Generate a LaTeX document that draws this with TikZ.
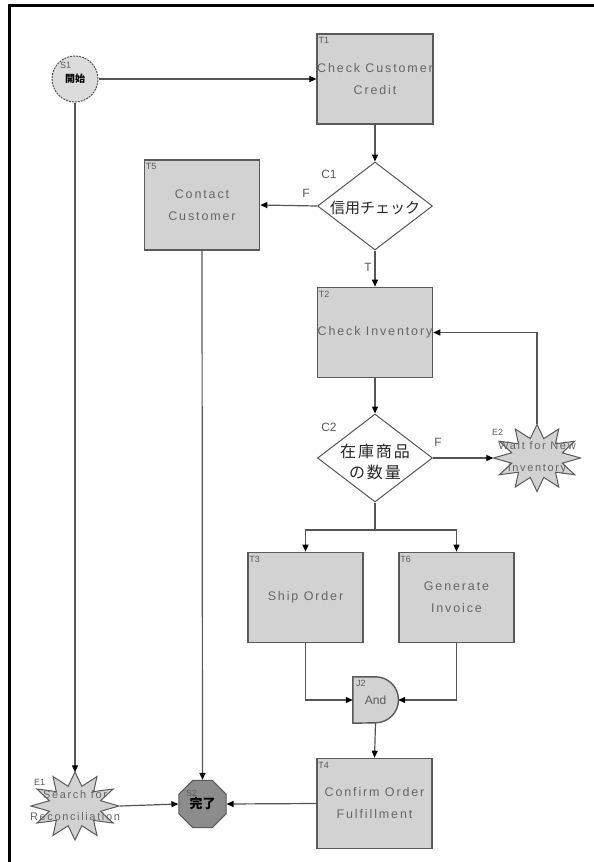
\documentclass[tikz,border=0pt]{standalone}
\usepackage{fontspec}
\setmainfont{Liberation Sans}
\newfontfamily\boxfont[LetterSpace=15]{Liberation Sans}
\newfontfamily\jpfont{Noto Sans CJK JP}
\newfontfamily\jpwide[LetterSpace=12]{Noto Sans CJK JP}
\usetikzlibrary{shapes.geometric,arrows.meta,calc}
\pgfdeclarelayer{bg}
\pgfsetlayers{bg,main}
\definecolor{boxfill}{HTML}{D2D2D2}
\definecolor{boxline}{HTML}{5A5A5A}
\definecolor{txtgray}{HTML}{666666}
\definecolor{linegray}{HTML}{555555}
\definecolor{startfill}{HTML}{DCDCDC}
\definecolor{endfill}{HTML}{8C8C8C}
\begin{document}
\begin{tikzpicture}[x=1pt,y=-1pt,
  task/.style={draw=boxline, fill=boxfill, line width=1.6pt,
    minimum width=115pt, minimum height=90pt, inner sep=0pt,
    text=txtgray, align=center, font=\boxfont\fontsize{12.5}{22}\selectfont},
  tag/.style={anchor=north west, inner sep=0pt, text=boxline,
    font=\fontsize{9}{10}\selectfont},
  decision/.style={diamond, draw=linegray, fill=white, line width=1pt,
    inner sep=0pt, minimum width=115pt, minimum height=88pt},
  dtext/.style={inner sep=0pt, align=center, text=black!85},
  eventbox/.style={rectangle, inner sep=0pt, minimum width=87pt,
    minimum height=67pt, align=center, text=txtgray,
    font=\boxfont\fontsize{11}{22}\selectfont},
  starline/.style={draw=boxline, fill=boxfill, line width=1pt},
  startnode/.style={circle, draw=linegray, dash pattern=on 2pt off 1pt,
    fill=startfill, line width=1pt, minimum size=46pt, inner sep=0pt,
    font=\jpfont\bfseries\fontsize{10}{12}\selectfont},
  endnode/.style={regular polygon, regular polygon sides=8, draw=boxline,
    fill=endfill, line width=1pt, minimum size=51pt, inner sep=0pt,
    font=\jpfont\bfseries\fontsize{13}{14}\selectfont},
  gatebox/.style={rectangle, inner sep=0pt, minimum width=45pt,
    minimum height=46pt, text=boxline, font=\fontsize{12}{14}\selectfont},
  flow/.style={draw=linegray, line width=1.2pt,
    -{Triangle[length=7pt,width=6pt,color=black]}},
  plain/.style={draw=linegray, line width=1.2pt},
  branch/.style={font=\fontsize{12}{14}\selectfont, text=boxline, inner sep=0pt}]

\useasboundingbox (0,0) rectangle (594,862);
\draw[line width=3pt] (9.5,862) -- (9.5,5) -- (594,5);

% start and end
\node[startnode] (S1) at (75,79) {開始};
\node[tag] (S1tag) at (60,62) {S1};
\node[endnode] (S2) at (202.5,804) {完了};
\node[tag] (S2tag) at (186,790) {S2};

% tasks
\node[task] (T1) at (375,79) {Check Customer\\Credit};
\node[task] (T5) at (202,205) {Contact\\Customer};
\node[task] (T2) at (375,332.5) {Check Inventory};
\node[task] (T3) at (305.5,597.5) {Ship Order};
\node[task] (T6) at (456.5,597.5) {Generate\\Invoice};
\node[task] (T4) at (374.5,803.5) {Confirm Order\\Fulfillment};
\foreach \t in {T1,T5,T2,T3,T6,T4}
  \node[tag] (\t tag) at ([shift={(2,4)}]\t.north west) {\t};

% decisions
\node[decision] (C1) at (375,206) {};
\node[dtext, font=\jpfont\fontsize{15}{18}\selectfont] (C1text) at (375,208) {信用チェック};
\node[branch] (C1tag) at (329,174) {C1};
\node[decision] (C2) at (375,458) {};
\node[dtext, font=\jpwide\fontsize{16}{21}\selectfont] (C2text) at (375,462) {在庫商品\\の数量};
\node[branch] (C2tag) at (329,427) {C2};

% events
\node[eventbox] (E2) at (537,458) {Wait for New\\Inventory};
\node[tag] (E2tag) at (492,429) {E2};
\node[eventbox] (E1) at (75,806) {Search for\\Reconciliation};
\node[tag] (E1tag) at (34,779) {E1};

% and-join
\node[gatebox] (J2) at (375.5,700) {And};
\node[tag] (J2tag) at (356,680) {J2};

\coordinate (split) at (375,530);

\begin{pgfonlayer}{bg}
  \fill[white] (0,0) rectangle (594,862);
  \foreach \e/\rx/\ry in {E2/43.5/33.5, E1/44/34} {
    \begin{scope}[shift={(\e.center)}]
      \draw[starline] plot[domain=0:23, samples=24]
        ({\rx*(0.8+0.2*cos(180*\x))*cos(90+15*\x)},
         {\ry*(0.8+0.2*cos(180*\x))*sin(90+15*\x)}) -- cycle;
    \end{scope}
  }
  \draw[starline, line width=1.4pt] (J2.north west) -- (J2.north)
    arc[start angle=-90, end angle=90, radius=23] -- (J2.south west) -- cycle;
\end{pgfonlayer}

% connectors
\draw[flow] (S1.east) -- (T1.west);
\draw[flow] (T1.south) -- (C1.north);
\draw[flow] (C1.west) -- (T5.east);
\node[branch] (Flabel1) at (306,193) {F};
\draw[flow] (C1.south) -- (T2.north);
\node[branch] (Tlabel1) at (368,267) {T};
\draw[flow] (T5.south) -- (S2.north);
\draw[flow] (T2.south) -- (C2.north);
\draw[flow] (C2.east) -- (E2.west);
\node[branch] (Flabel2) at (438,442) {F};
\draw[flow] (E2.north) |- (T2.east);
\draw[plain] (C2.south) -- (split);
\draw[flow] (split) -| (T3.north);
\draw[flow] (split) -| (T6.north);
\draw[flow] (T3.south) |- (J2.west);
\draw[flow] (T6.south) |- (J2.east);
\draw[flow] (J2.south) -- (T4.north);
\draw[flow] (T4.west) -- (S2.east);
\draw[flow] (S1.south) -- (E1.north);
\draw[flow] (E1.east) -- (S2.west);
\end{tikzpicture}
\end{document}
